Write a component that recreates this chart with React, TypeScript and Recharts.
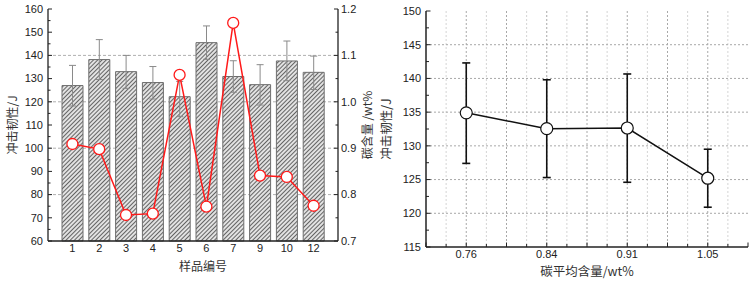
import { ComposedChart, Bar, Line, XAxis, YAxis, CartesianGrid, ErrorBar } from 'recharts';

// left panel: impact toughness per sample + carbon content
const samples = ['1', '2', '3', '4', '5', '6', '7', '9', '10', '12'];
const impact = [127.0, 138.2, 133.0, 128.3, 122.2, 145.5, 130.9, 127.4, 137.6, 132.7];
const impactHigh = [135.7, 146.8, 140.0, 135.2, 128.8, 152.7, 137.7, 136.0, 146.2, 139.7];
const impactLow = [118.2, 129.6, 125.8, 121.2, 113.6, 138.3, 124.1, 118.6, 129.1, 125.3];
const carbon = [0.909, 0.898, 0.756, 0.759, 1.058, 0.774, 1.17, 0.841, 0.838, 0.776];

const leftTicks = [60, 65, 70, 75, 80, 85, 90, 95, 100, 105, 110, 115, 120, 125, 130, 135, 140, 145, 150, 155, 160];
const rightTicks = [0.7, 0.75, 0.8, 0.85, 0.9, 0.95, 1.0, 1.05, 1.1, 1.15, 1.2];
const leftGrid = [80, 100, 120, 140];

// right panel: mean impact toughness vs mean carbon content
const carbonLabels = ['0.76', '0.84', '0.91', '1.05'];
const meanImpact = [134.9, 132.55, 132.65, 125.2];
const meanHigh = [142.3, 139.8, 140.66, 129.5];
const meanLow = [127.4, 125.3, 124.6, 120.9];

const meanYTicks = [115, 117.5, 120, 122.5, 125, 127.5, 130, 132.5, 135, 137.5, 140, 142.5, 145, 147.5, 150];
const meanXTicks = [-0.5, -0.25, 0, 0.25, 0.5, 0.75, 1, 1.25, 1.5, 1.75, 2, 2.25, 2.5, 2.75, 3, 3.25, 3.5];
const meanGridY = [120, 125, 130, 135, 140, 145];
const meanGridX = [0, 0.5, 1, 1.5, 2, 2.5, 3];
const meanGridXMinor = [-0.25, 0.25, 0.75, 1.25, 1.75, 2.25, 2.75, 3.25];

const leftData = samples.map((name, i) => ({
  name,
  impact: impact[i],
  impactErr: [impact[i] - impactLow[i], impactHigh[i] - impact[i]],
  carbon: carbon[i],
}));

const rightData = carbonLabels.map((_, i) => ({
  idx: i,
  impact: meanImpact[i],
  err: [meanImpact[i] - meanLow[i], meanHigh[i] - meanImpact[i]],
}));

const NUM_FONT = '"Liberation Sans", Arial, sans-serif';
const CJK_FONT = '"Noto Sans CJK SC", "Liberation Sans", sans-serif';
const AXIS = '#222';

type TickOpts = {
  side: 'left' | 'right' | 'bottom';
  gap: number;
  major: (v: number) => boolean;
  label: (v: number) => string | null;
  majorLen: number;
  minorLen: number;
};

// ticks drawn pointing into the plot, like the Origin style
const inwardTick = (o: TickOpts) => (p: any) => {
  const v = p.payload.value;
  const len = o.major(v) ? o.majorLen : o.minorLen;
  const text = o.label(v);
  const textProps = { fontFamily: NUM_FONT, fontSize: 11, fill: '#222' };
  if (o.side === 'left') {
    const ax = p.x + o.gap;
    return (
      <g>
        <line x1={ax} x2={ax + len} y1={p.y} y2={p.y} stroke={AXIS} />
        {text && <text x={p.x} y={p.y} dy="0.35em" textAnchor="end" {...textProps}>{text}</text>}
      </g>
    );
  }
  if (o.side === 'right') {
    const ax = p.x - o.gap;
    return (
      <g>
        <line x1={ax} x2={ax - len} y1={p.y} y2={p.y} stroke={AXIS} />
        {text && <text x={p.x} y={p.y} dy="0.35em" textAnchor="start" {...textProps}>{text}</text>}
      </g>
    );
  }
  const ay = p.y - o.gap;
  return (
    <g>
      <line x1={p.x} x2={p.x} y1={ay} y2={ay - len} stroke={AXIS} />
      {text && <text x={p.x} y={p.y} dy="0.71em" textAnchor="middle" {...textProps}>{text}</text>}
    </g>
  );
};

const isStep = (v: number, step: number) => Math.abs(v / step - Math.round(v / step)) < 1e-6;

function SampleChart() {
  return (
    <ComposedChart width={380} height={281} data={leftData} margin={{ top: 9, right: 0, bottom: 0, left: 0 }}>
      <defs>
        <pattern id="hatch" width="3" height="3" patternUnits="userSpaceOnUse" patternTransform="rotate(45)">
          <rect width="3" height="3" fill="#e2e2e2" />
          <line x1="0" y1="0" x2="0" y2="3" stroke="#3a3a3a" strokeWidth="1.5" />
        </pattern>
      </defs>
      <CartesianGrid
        xAxisId="b"
        yAxisId="l"
        vertical={false}
        horizontalValues={leftGrid}
        stroke="#b0b0b0"
        strokeDasharray="3 2"
      />
      <XAxis
        xAxisId="b"
        dataKey="name"
        height={40}
        padding={{ left: 11, right: 11 }}
        interval={0}
        tickLine={false}
        tickSize={0}
        tickMargin={3}
        tick={{ fontFamily: NUM_FONT, fontSize: 11, fill: '#222' }}
        axisLine={{ stroke: AXIS, strokeWidth: 1.3 }}
        label={{ value: '样品编号', position: 'center', dx: 10, dy: 6, style: { fontFamily: CJK_FONT, fontSize: 12, fill: '#333' } }}
      />
      <XAxis xAxisId="t" dataKey="name" orientation="top" height={0} tick={false} tickLine={false} axisLine={{ stroke: AXIS, strokeWidth: 1.3 }} />
      <YAxis
        yAxisId="l"
        domain={[60, 160]}
        ticks={leftTicks}
        interval={0}
        width={48}
        tickLine={false}
        tickSize={0}
        tickMargin={5}
        tick={inwardTick({ side: 'left', gap: 5, major: (v) => isStep(v, 10), label: (v) => (isStep(v, 10) ? String(v) : null), majorLen: 4, minorLen: 2.5 })}
        axisLine={{ stroke: AXIS, strokeWidth: 1.3 }}
        label={{ value: '冲击韧性/J', angle: -90, position: 'center', dx: -11, style: { fontFamily: CJK_FONT, fontSize: 12, fill: '#333' } }}
      />
      <YAxis
        yAxisId="r"
        orientation="right"
        domain={[0.7, 1.2]}
        ticks={rightTicks}
        interval={0}
        width={42}
        tickLine={false}
        tickSize={0}
        tickMargin={3}
        tick={inwardTick({ side: 'right', gap: 3, major: (v) => isStep(v, 0.1), label: (v) => (isStep(v, 0.1) ? v.toFixed(1) : null), majorLen: 4, minorLen: 2.5 })}
        axisLine={{ stroke: AXIS, strokeWidth: 1.3 }}
        label={{ value: '碳含量 /wt%', angle: -90, position: 'center', dx: 9, style: { fontFamily: CJK_FONT, fontSize: 12, fill: '#333' } }}
      />
      <Bar xAxisId="b" yAxisId="l" dataKey="impact" fill="url(#hatch)" stroke="#6e6e6e" strokeWidth={1} barSize={21} isAnimationActive={false}>
        <ErrorBar dataKey="impactErr" width={3.5} stroke="#8a8a8a" strokeWidth={1} direction="y" />
      </Bar>
      <Line
        xAxisId="b"
        yAxisId="r"
        dataKey="carbon"
        stroke="#ff1a1a"
        strokeWidth={1.5}
        dot={{ r: 5.5, fill: '#fff', stroke: '#ff1a1a', strokeWidth: 1.3 }}
        isAnimationActive={false}
      />
    </ComposedChart>
  );
}

// the svg starts 30px early (overlapping transparently) so the rotated y title has room
function MeanChart() {
  return (
    <ComposedChart width={401} height={281} data={rightData} margin={{ top: 11, right: 3, bottom: 0, left: 30 }}>
      <CartesianGrid xAxisId="x" yAxisId="y" horizontal={false} verticalValues={meanGridXMinor} stroke="#d4d4d4" strokeDasharray="2 2" />
      <CartesianGrid xAxisId="x" yAxisId="y" horizontalValues={meanGridY} verticalValues={meanGridX} stroke="#a8a8a8" strokeDasharray="2 2" />
      <XAxis
        xAxisId="x"
        type="number"
        dataKey="idx"
        domain={[-0.5, 3.5]}
        ticks={meanXTicks}
        interval={0}
        allowDataOverflow
        height={34}
        tickLine={false}
        tickSize={0}
        tickMargin={3}
        tick={inwardTick({
          side: 'bottom',
          gap: 3,
          major: (v) => isStep(v, 0.5),
          label: (v) => (isStep(v, 1) && v >= 0 && v < carbonLabels.length ? carbonLabels[Math.round(v)] : null),
          majorLen: 4.5,
          minorLen: 3,
        })}
        axisLine={{ stroke: AXIS, strokeWidth: 1.5 }}
        label={{ value: '碳平均含量/wt%', position: 'center', dy: 8, style: { fontFamily: CJK_FONT, fontSize: 12.5, fill: '#333' } }}
      />
      <XAxis xAxisId="t" type="number" domain={[-0.5, 3.5]} orientation="top" height={0} tick={false} tickLine={false} axisLine={{ stroke: AXIS, strokeWidth: 1.5 }} />
      <YAxis
        yAxisId="y"
        domain={[115, 150]}
        ticks={meanYTicks}
        interval={0}
        width={46}
        tickLine={false}
        tickSize={0}
        tickMargin={5}
        tick={inwardTick({ side: 'left', gap: 5, major: (v) => isStep(v, 5), label: (v) => (isStep(v, 5) ? String(v) : null), majorLen: 4.5, minorLen: 3 })}
        axisLine={{ stroke: AXIS, strokeWidth: 1.5 }}
        label={{ value: '冲击韧性/J', angle: -90, position: 'center', dx: -16, style: { fontFamily: CJK_FONT, fontSize: 12.5, fill: '#333' } }}
      />
      <YAxis yAxisId="r2" orientation="right" domain={[115, 150]} width={0} tick={false} tickLine={false} axisLine={{ stroke: AXIS, strokeWidth: 1.5 }} />
      <Line
        xAxisId="x"
        yAxisId="y"
        dataKey="impact"
        stroke="#111"
        strokeWidth={1.5}
        dot={{ r: 6, fill: '#fff', stroke: '#111', strokeWidth: 1.2 }}
        isAnimationActive={false}
      >
        <ErrorBar dataKey="err" width={4} stroke="#111" strokeWidth={1.6} direction="y" />
      </Line>
    </ComposedChart>
  );
}

export default function App() {
  return (
    <div style={{ position: 'absolute', left: 0, top: 0, width: 751, height: 281, background: '#fff', display: 'flex' }}>
      <SampleChart />
      <div style={{ marginLeft: -30 }}>
        <MeanChart />
      </div>
    </div>
  );
}
